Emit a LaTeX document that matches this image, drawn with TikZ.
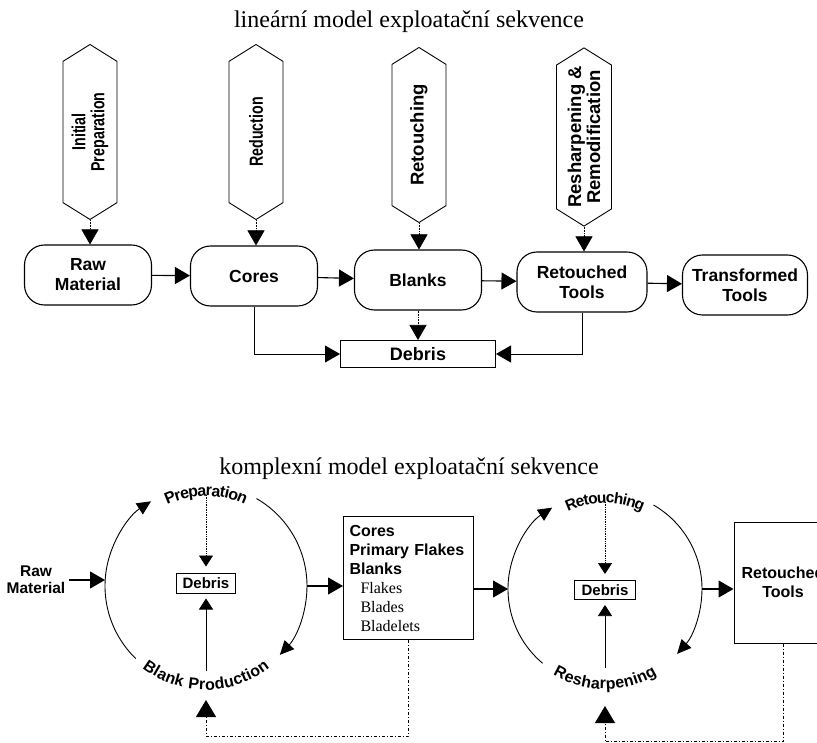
\documentclass[tikz,border=0pt]{standalone}
\usepackage{fontspec}
\setmainfont{Liberation Serif}
\setsansfont{Liberation Sans}
\newfontfamily\narrowsf[FakeStretch=0.75]{Liberation Sans}
\newfontfamily\ringsf[LetterSpace=6]{Liberation Sans}
\usetikzlibrary{arrows.meta,shapes.symbols,decorations.text}
\newcommand\fsz[2]{\fontsize{#1}{#2}\selectfont}
\newcommand\bsf[1]{{\sffamily\bfseries #1}}

\begin{document}
\begin{tikzpicture}[x=1pt,y=1pt,
  hexa/.style={draw, line width=0.9pt, signal, signal to=east and west,
    signal pointer angle=116, rotate=90, minimum width=175, minimum height=54,
    inner sep=1pt, align=center},
  stage/.style={draw, line width=1.1pt, rounded corners=20pt, minimum width=127,
    minimum height=60, align=center, font=\sffamily\bfseries\fsz{17.5}{20}},
  debr/.style={draw, line width=1pt, inner sep=1pt},
  heading/.style={font=\fsz{24}{24}},
  arr/.style={line width=1.1pt, -{Triangle[length=15pt,width=17pt]}},
  link/.style={line width=0.8pt, -{Triangle[length=15pt,width=17pt]}},
  feed/.style={line width=0.6pt, densely dotted, -{Triangle[length=15pt,width=17pt]}},
  ringarr/.style={line width=0.9pt, -{Triangle[length=14pt,width=13pt]}},
  smallarr/.style={line width=0.7pt, -{Triangle[length=11pt,width=14pt]}},
  back/.style={line width=1pt, dash dot, -{Triangle[length=17pt,width=20pt]}},
  ring/.style={circle, inner sep=0pt, outer sep=0pt}]
\useasboundingbox (0,0) rectangle (817,-743);
\clip (0,0) rectangle (817,-743);

% linear model
\node[heading] (toptitle) at (409,-22) {lineární model exploatační sekvence};

\node[hexa, font=\narrowsf\bfseries\fsz{19}{19}] (hprep) at (90,-132) {Initial\\Preparation};
\node[hexa, font=\narrowsf\bfseries\fsz{19}{19}] (hred) at (256,-132) {Reduction};
\node[hexa, font=\sffamily\bfseries\fsz{18.5}{19}] (hret) at (419,-135) {Retouching};
\node[hexa, minimum height=55, font=\sffamily\bfseries\fsz{18.5}{19}] (hresh) at (584,-137) {Resharpening \&\\Remodification};

\node[stage] (raw) at (88,-275) {Raw\\Material};
\node[stage] (cores) at (254,-276) {Cores};
\node[stage] (blanks) at (418,-280) {Blanks};
\node[stage, minimum width=130] (rtools) at (582,-282) {Retouched\\Tools};
\node[stage, minimum width=125] (ttools) at (745,-285) {Transformed\\Tools};
\node[debr, minimum width=155, minimum height=27, font=\sffamily\bfseries\fsz{18}{18}] (deb) at (418,-354) {Debris};

\draw[feed] (hprep.west) -- (hprep.west |- raw.north);
\draw[feed] (hred.west) -- (hred.west |- cores.north);
\draw[feed] (hret.west) -- (hret.west |- blanks.north);
\draw[feed] (hresh.west) -- (hresh.west |- rtools.north);

\draw[arr] (raw) -- (cores);
\draw[arr] (cores) -- (blanks);
\draw[arr] (blanks) -- (rtools);
\draw[arr] (rtools) -- (ttools);

\draw[link] (cores.south) |- (deb.west);
\draw[feed] (blanks.south) -- (deb.north);
\draw[link] (rtools.south) |- (deb.east);

% complex model
\node[heading] (bottomtitle) at (409,-469) {komplexní model exploatační sekvence};

\node[ring, minimum size=202pt] (ring1) at (206,-586) {};
\node[font=\sffamily\bfseries\fsz{15.5}{17}, align=center] (rawb) at (36,-580) {Raw\\Material};
\draw[arr] (rawb.east) -- (rawb.east -| ring1.west);

\draw[ringarr] (ring1.226) arc[start angle=226, end angle=123, radius=101];
\draw[ringarr] (ring1.60) arc[start angle=60, end angle=-43, radius=101];
\path[decorate, decoration={text along path, text align=center, raise=-11pt,
  text={|\ringsf\bfseries\fsz{16}{16}|Preparation}}]
  (ring1.122) arc[start angle=122, end angle=58, radius=101];
\path[decorate, decoration={text along path, text align=center, raise=-3pt,
  text={|\ringsf\bfseries\fsz{16}{16}|Blank Production}}]
  (ring1.222) arc[start angle=222, end angle=318, radius=101];

\node[debr, minimum width=59, minimum height=20, font=\sffamily\bfseries\fsz{15}{15}] (deb1) at (206,-583) {Debris};
\draw[smallarr, densely dotted, shorten >=6pt] ([yshift=-10pt]ring1.north) -- (deb1.north);
\draw[smallarr, shorten >=5pt] ([yshift=16pt]ring1.south) -- (deb1.south);

\node[draw, line width=1pt, anchor=north west, minimum width=130, minimum height=123,
  text width=118pt, inner sep=6pt, align=left, font=\fsz{16}{19}] (items) at (343,-516)
  {\bsf{Cores}\\\bsf{Primary Flakes}\\\bsf{Blanks}\\\hspace*{11pt}Flakes\\\hspace*{11pt}Blades\\\hspace*{11pt}Bladelets};
\draw[arr] (ring1.east) -- (ring1.east -| items.west);
\draw[back] (items.south) -- ++(0,-96) -| ([yshift=-13pt]ring1.south);

\node[ring, minimum size=194pt] (ring2) at (605,-589) {};
\draw[arr] (items.east |- ring2.west) -- (ring2.west);

\draw[ringarr] (ring2.230) arc[start angle=230, end angle=123, radius=97];
\draw[ringarr] (ring2.60) arc[start angle=60, end angle=-42, radius=97];
\path[decorate, decoration={text along path, text align=center, raise=-11pt,
  text={|\ringsf\bfseries\fsz{15.5}{16}|Retouching}}]
  (ring2.121) arc[start angle=121, end angle=59, radius=97];
\path[decorate, decoration={text along path, text align=center, raise=-3pt,
  text={|\ringsf\bfseries\fsz{16}{16}|Resharpening}}]
  (ring2.224) arc[start angle=224, end angle=316, radius=97];

\node[debr, minimum width=61, minimum height=19, font=\sffamily\bfseries\fsz{15}{15}] (deb2) at (605,-590) {Debris};
\draw[smallarr, densely dotted, shorten >=6pt] ([yshift=-10pt]ring2.north) -- (deb2.north);
\draw[smallarr, shorten >=5pt] ([yshift=18pt]ring2.south) -- (deb2.south);

\node[draw, line width=1pt, minimum width=98, minimum height=121, align=center,
  font=\sffamily\bfseries\fsz{16}{19}] (rbox) at (783,-582.5) {Retouched\\Tools};
\draw[arr] (ring2.east) -- (ring2.east -| rbox.west);
\draw[back] (rbox.south) -- ++(0,-98) -| ([yshift=-20pt]ring2.south);
\end{tikzpicture}
\end{document}
